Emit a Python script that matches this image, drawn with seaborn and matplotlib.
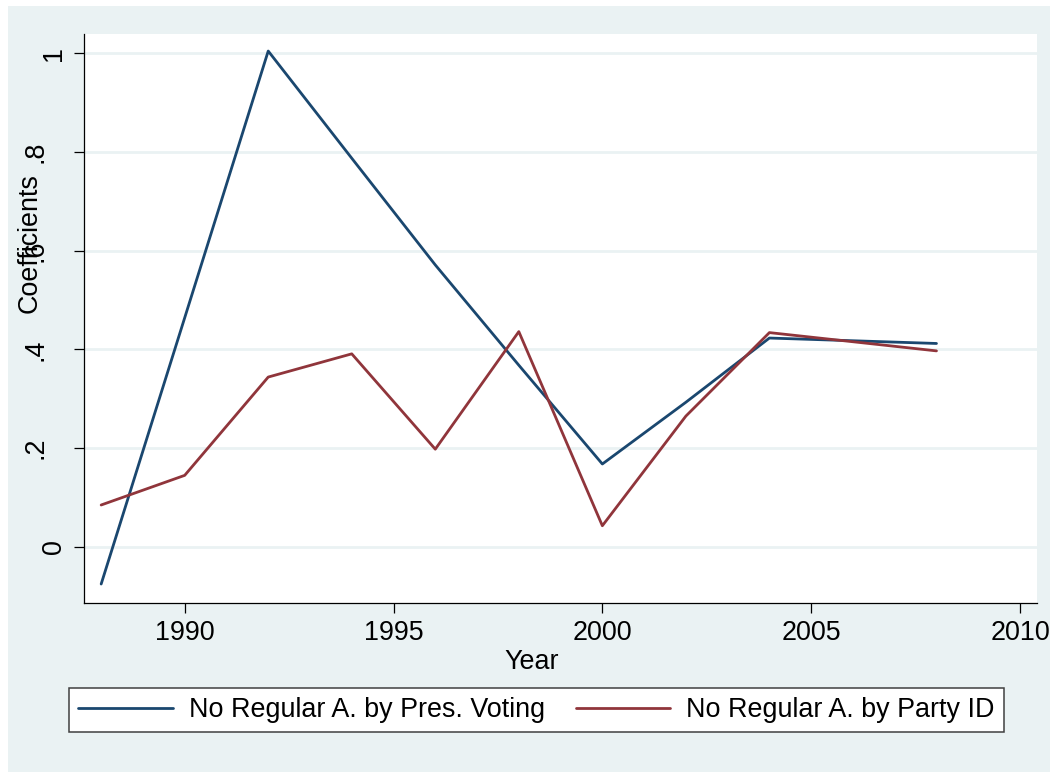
import numpy as np
import pandas as pd
import matplotlib
matplotlib.use("Agg")
import matplotlib.pyplot as plt
import matplotlib.transforms as mtransforms
import seaborn as sns
from matplotlib.patches import Rectangle

# ---- data ----
years = [1988, 1990, 1992, 1994, 1996, 1998, 2000, 2002, 2004, 2008]
pres_voting = [-0.075, 0.464, 1.004, 0.787, 0.571, 0.368, 0.168, 0.293, 0.423, 0.412]
party_id = [0.085, 0.145, 0.344, 0.391, 0.198, 0.436, 0.043, 0.265, 0.434, 0.397]
series_labels = ["No Regular A. by Pres. Voting", "No Regular A. by Party ID"]
y_ticks = [0, 0.2, 0.4, 0.6, 0.8, 1.0]
y_tick_labels = ["0", ".2", ".4", ".6", ".8", "1"]
x_ticks = [1990, 1995, 2000, 2005, 2010]
x_tick_labels = ["1990", "1995", "2000", "2005", "2010"]

sns.set_theme(style="white")
plt.rcParams['font.family'] = ['Liberation Sans', 'DejaVu Sans']

BG = '#EAF2F3'
W, H = 1050, 772
FS = 19.4

fig = plt.figure(figsize=(W / 100, H / 100), dpi=100, facecolor='white')
fig.patches.append(Rectangle((8 / W, 0), (W - 8) / W, (H - 6) / H,
                             transform=fig.transFigure, facecolor=BG,
                             edgecolor='none', zorder=-10))

ax = fig.add_axes([84 / W, 1 - 603 / H, (1037 - 84) / W, (603 - 34) / H])
ax.set_facecolor('white')

df = pd.DataFrame({
    'Year': years * 2,
    'Coefficients': pres_voting + party_id,
    'Series': [series_labels[0]] * len(years) + [series_labels[1]] * len(years),
})

sns.lineplot(data=df, x='Year', y='Coefficients', hue='Series',
             palette=['#1A476F', '#90353B'], linewidth=2.0, ax=ax,
             estimator=None, sort=False)

ax.set_xlim(1987.589, 2010.407)
ax.set_ylim(-0.1134, 1.0385)

ax.set_xticks(x_ticks, x_tick_labels)
ax.set_yticks(y_ticks, y_tick_labels)
ax.tick_params(axis='both', length=7.2, width=0.9, color='black',
               labelsize=FS, pad=5, labelcolor='black', direction='out')
ax.tick_params(axis='x', bottom=True)
ax.tick_params(axis='y', left=True)
shift = mtransforms.ScaledTranslation(-19 / 100, 0, fig.dpi_scale_trans)
for lab in ax.get_yticklabels():
    lab.set_rotation(90)
    lab.set_va('center')
    lab.set_ha('right')
    if lab.get_text().startswith('.'):
        lab.set_transform(lab.get_transform() + shift)

ax.yaxis.grid(True, color=BG, linewidth=2)
ax.xaxis.grid(False)
ax.set_axisbelow(True)

for s in ['top', 'right']:
    ax.spines[s].set_visible(False)
for s in ['left', 'bottom']:
    ax.spines[s].set_color('black')
    ax.spines[s].set_linewidth(0.9)

ax.set_xlabel('Year', fontsize=FS, color='black', va='center')
ax.xaxis.set_label_coords((532 - 84) / 953, (603 - 662) / 569)
ax.set_ylabel('Coefficients', fontsize=FS, color='black', va='center')
ax.yaxis.set_label_coords((30 - 84) / 953, (603 - 243) / 569)

handles, labels = ax.get_legend_handles_labels()
ax.get_legend().remove()
leg = fig.legend(handles, labels, loc='center',
                 bbox_to_anchor=(69 / W, 1 - 735 / H, 935 / W, 50 / H),
                 bbox_transform=fig.transFigure, mode='expand', ncol=2,
                 frameon=True, fancybox=False, edgecolor='#404040',
                 facecolor='white', framealpha=1, fontsize=FS,
                 handlelength=3.5, handletextpad=0.6, borderpad=0.35,
                 borderaxespad=0)
leg.get_frame().set_linewidth(1.1)
for t in leg.get_texts():
    t.set_color('black')

fig.savefig('out.png', dpi=100)
